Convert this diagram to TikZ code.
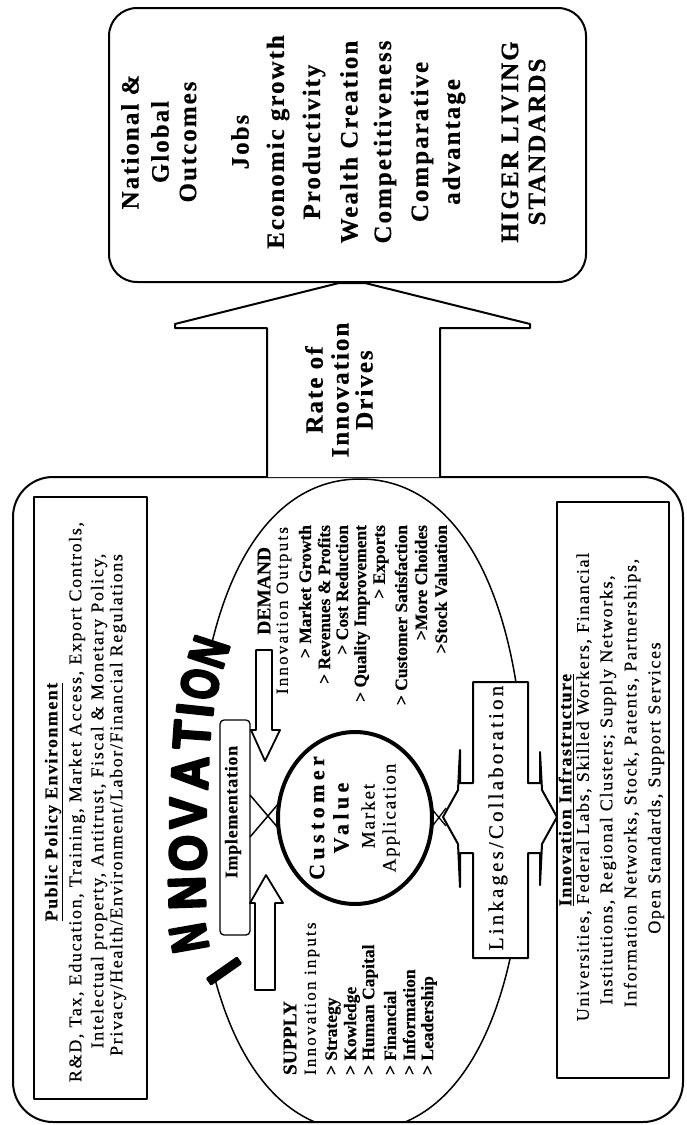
\documentclass[tikz,border=0pt]{standalone}
\usepackage{fontspec}
\setmainfont{Liberation Serif}[UprightFeatures={FakeBold=0.4},BoldFeatures={FakeBold=0.4}]
\newfontfamily\innofont[FakeBold=5]{Liberation Sans Bold}
\newcommand\fOut{\fontsize{25}{28}\selectfont\bfseries\addfontfeature{LetterSpace=8}}
\newcommand\fBox{\fontsize{18}{20}\selectfont\addfontfeature{LetterSpace=9}}
\newcommand\fBoxH{\fontsize{18}{20}\selectfont\bfseries\addfontfeature{LetterSpace=8}}
\newcommand\fList{\fontsize{17.5}{19}\selectfont\bfseries}
\newcommand\fHead{\fontsize{19.5}{21}\selectfont\bfseries}
\newcommand\fReg{\fontsize{17}{19}\selectfont\addfontfeature{LetterSpace=13}}
\newcommand\fCV{\fontsize{22}{24}\selectfont\bfseries\addfontfeature{LetterSpace=20}}
\newcommand\fMA{\fontsize{19}{21}\selectfont\addfontfeature{LetterSpace=10}}
\newcommand\fLink{\fontsize{21}{23}\selectfont\addfontfeature{LetterSpace=15}}
\newcommand\fImp{\fontsize{18}{20}\selectfont\bfseries\addfontfeature{LetterSpace=4}}
\newcommand\fInno{\innofont\fontsize{52}{52}\selectfont}
\tikzset{
  rt/.style={rotate=90, inner sep=0pt, outer sep=0pt},
  inno/.style 2 args={inner sep=0pt, outer sep=0pt, font=\fInno, rotate=#1, xscale=#2},
  frame/.style={line width=2pt},
  thickbox/.style={line width=2.5pt},
  hollow/.style={line width=1.8pt, fill=white},
  ellline/.style={line width=1.5pt},
}
\begin{document}
\begin{tikzpicture}[x=1pt,y=-1pt,line join=round]
\useasboundingbox (0,0) rectangle (686,1125);
\fill[white] (0,0) rectangle (686,1125);

% main rounded frame
\draw[frame, rounded corners=40pt] (13,477) rectangle (683,1122);

% Public policy box
\draw[thickbox] (34,497) rectangle (147,1099);
\node[rt, font=\fBoxH] (pph) at (54,802) {\underline{Public Policy Environment}};
\node[rt, font=\fBox] (pp1) at (77,802) {R\&D, Tax, Education, Training, Market Access, Export Controls,};
\node[rt, font=\fBox] (pp2) at (99,801) {Intelectual property, Antitrust, Fiscal \& Monetary Policy,};
\node[rt, font=\fBox] (pp3) at (118,805) {Privacy/Health/Environment/Labor/Financial Regulations};

% Innovation infrastructure box
\draw[thickbox] (557,502) rectangle (669,1078);
\node[rt, font=\fBoxH] (iih) at (566,790) {\underline{Innovation Infrastructure}};
\node[rt, font=\fBox] (ii1) at (584,787) {Universities, Federal Labs, Skilled Workers, Financial};
\node[rt, font=\fBox] (ii2) at (608,790) {Institutions, Regional Clusters; Supply Networks,};
\node[rt, font=\fBox] (ii3) at (632,783) {Information Networks, Stock, Patents, Partnerships,};
\node[rt, font=\fBox] (ii4) at (656,788) {Open Standards, Support Services};

% big innovation oval (squarish bezier oval)
\begin{scope}
\clip (0,0) rectangle (686,1122);
\draw[ellline] (360,479) .. controls (462.3,479) and (525,602.9) .. (525,805)
   .. controls (525,1007.1) and (462.3,1131) .. (360,1131)
   .. controls (257.7,1131) and (195,1007.1) .. (195,805)
   .. controls (195,602.9) and (257.7,479) .. (360,479) -- cycle;
\end{scope}
\fill[white] (163,642) rectangle (231,980);

% INNOVATION letters along the oval
\node[inno={125}{0.9}]  (L1) at (224,971) {I};
\node[inno={100}{0.75}] (L2) at (189,938) {N};
\node[inno={92}{0.9}]   (L3) at (187,893) {N};
\node[inno={90}{0.9}]   (L4) at (188,853) {O};
\node[inno={90}{0.9}]   (L5) at (188,813) {V};
\node[inno={88}{0.9}]   (L6) at (190,773) {A};
\node[inno={86}{0.9}]   (L7) at (192,735) {T};
\node[inno={84}{0.9}]   (L8) at (195,710) {I};
\node[inno={80}{0.75}]  (L9) at (200,684) {O};
\node[inno={72}{0.75}]  (L10) at (209,652) {N};

% Linkages / Collaboration cross
\draw[frame, fill=white] (473,682) -- (528,682) -- (528,783) -- (540,783) -- (540,752)
   -- (542,790) -- (557,817) -- (542,844) -- (540,885)
   -- (540,853) -- (528,853) -- (528,958) -- (473,958) -- (473,853) -- (460,853) -- (460,887)
   -- (458,844) -- (443,817) -- (458,790) -- (460,750)
   -- (460,783) -- (473,783) -- cycle;
\node[rt, font=\fLink] (link) at (498,818) {Linkages/Collaboration};

% Implementation
\draw[line width=1.3pt, fill=white, rounded corners=4pt] (220,720) rectangle (250,935);
\node[rt, font=\fImp] (impl) at (233,812) {Implementation};

% demand / supply arrows
\draw[hollow] (256,650) -- (272,650) -- (272,730) -- (280,730) -- (265,761) -- (251,730) -- (256,730) -- cycle;
\draw[hollow] (255,990) -- (275,990) -- (275,903) -- (283,903) -- (266,875) -- (250,903) -- (255,903) -- cycle;

% junctions
\draw[line width=1.5pt] (250,795) -- (279,829) (250,837) -- (279,803);
\draw[line width=1.3pt] (431,808) -- (446,826) (431,828) -- (446,808);

% customer value circle
\draw[line width=4pt, fill=white] (355,818) ellipse[x radius=77, y radius=86];
\node[rt, font=\fCV] (cust) at (317,818) {Customer};
\node[rt, font=\fCV] (val) at (341,818) {Value};
\node[rt, font=\fMA] (mkt) at (368,816) {Market};
\node[rt, font=\fMA] (app) at (391,818) {Application};

% DEMAND block
\node[rt, font=\fHead, anchor=east] (dem) at (264,547) {DEMAND};
\node[rt, font=\fReg, anchor=east] (dout) at (284,527) {Innovation Outputs};
\node[rt, font=\fList, anchor=east] (d1) at (305,525) {> Market Growth};
\node[rt, font=\fList, anchor=east] (d2) at (324,525) {> Revenues \& Profits};
\node[rt, font=\fList, anchor=east] (d3) at (342,525) {> Cost Reduction};
\node[rt, font=\fList, anchor=east] (d4) at (362,525) {> Quality Improvement};
\node[rt, font=\fList, anchor=east] (d5) at (381,525) {> Exports};
\node[rt, font=\fList, anchor=east] (d6) at (401,525) {> Customer Satisfaction};
\node[rt, font=\fList, anchor=east] (d7) at (421,525) {>More Choides};
\node[rt, font=\fList, anchor=east] (d8) at (441,525) {>Stock Valuation};

% SUPPLY block
\node[rt, font=\fHead, anchor=west] (sup) at (290,1075) {SUPPLY};
\node[rt, font=\fReg, anchor=west] (sin) at (312,1075) {Innovation inputs};
\node[rt, font=\fList, anchor=west] (s1) at (333,1075) {> Strategy};
\node[rt, font=\fList, anchor=west] (s2) at (352,1075) {> Kowledge};
\node[rt, font=\fList, anchor=west] (s3) at (370,1075) {> Human Capital};
\node[rt, font=\fList, anchor=west] (s4) at (390,1075) {> Financial};
\node[rt, font=\fList, anchor=west] (s5) at (409,1075) {> Information};
\node[rt, font=\fList, anchor=west] (s6) at (429,1075) {> Leadership};

% big arrow
\draw[frame, fill=white] (267,477) -- (267,328) -- (175,328) -- (175,324) -- (339,283) -- (365,283)
   -- (530,324) -- (530,328) -- (440,328) -- (440,477);
\node[rt, font=\fOut] (r1) at (314,390) {Rate of};
\node[rt, font=\fOut] (r2) at (340,390) {Innovation};
\node[rt, font=\fOut] (r3) at (364,390) {Drives};

% outcomes box
\draw[frame, rounded corners=28pt] (109,8) rectangle (586,282);
\node[rt, font=\fOut] (o1) at (130,142) {National \&};
\node[rt, font=\fOut] (o2) at (160,142) {Global};
\node[rt, font=\fOut] (o3) at (188,142) {Outcomes};
\node[rt, font=\fOut] (o4) at (240,142) {Jobs};
\node[rt, font=\fOut] (o5) at (278,142) {Economic growth};
\node[rt, font=\fOut] (o6) at (314,142) {Productivity};
\node[rt, font=\fOut] (o7) at (349,142) {Wealth Creation};
\node[rt, font=\fOut] (o8) at (385,142) {Competitiveness};
\node[rt, font=\fOut] (o9) at (422,142) {Comparative};
\node[rt, font=\fOut] (o10) at (454,142) {advantage};
\node[rt, font=\fOut] (o11) at (510,142) {HIGER LIVING};
\node[rt, font=\fOut] (o12) at (537,142) {STANDARDS};
\end{tikzpicture}
\end{document}
